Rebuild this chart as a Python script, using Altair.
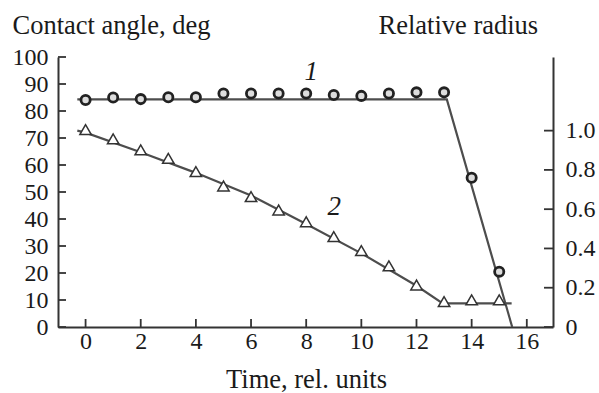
import altair as alt
import pandas as pd

# ---- data ----
# series 1: contact angle (deg), circles
angle_t = [0, 1, 2, 3, 4, 5, 6, 7, 8, 9, 10, 11, 12, 13, 14, 15]
angle_v = [84.1, 85.0, 84.4, 85.1, 85.1, 86.5, 86.5, 86.5, 86.5, 85.9, 85.6, 86.5, 86.9, 86.9, 55.3, 20.5]
angle_fit_t = [-0.3, 13.1, 15.47]
angle_fit_v = [84.3, 84.3, 0.0]

# series 2: relative radius, triangles
radius_t = [0, 1, 2, 3, 4, 5, 6, 7, 8, 9, 10, 11, 12, 13, 14, 15]
radius_v = [1.005, 0.958, 0.902, 0.859, 0.791, 0.718, 0.664, 0.596, 0.536, 0.46, 0.389, 0.311, 0.214, 0.129, 0.138, 0.138]
radius_fit_t = [-0.3, 0, 2, 4, 6, 8, 10, 12, 12.95, 15.45]
radius_fit_v = [1.0, 0.99, 0.89, 0.785, 0.67, 0.525, 0.375, 0.21, 0.12, 0.12]

# axes
x_ticks = [0, 2, 4, 6, 8, 10, 12, 14, 16]
deg_ticks = [0, 10, 20, 30, 40, 50, 60, 70, 80, 90, 100]
rad_ticks = [0, 0.2, 0.4, 0.6, 0.8, 1.0]
x_domain = [-1, 16.95]
deg_domain = [0, 100]
rad_domain = [0, 1.375]

# curve labels
curve_labels = ["1", "2"]
curve_label_t = [8.18, 9.02]
curve_label_v = [94.6, 44.6]

FONT = "Liberation Serif"
INK = "#1a1a1a"
LINE = "#4d4d4d"

W, H = 495, 270

df_angle = pd.DataFrame({"t": angle_t, "v": angle_v})
df_angle_fit = pd.DataFrame({"t": angle_fit_t, "v": angle_fit_v})
df_rad = pd.DataFrame({"t": radius_t, "v": radius_v})
df_rad_fit = pd.DataFrame({"t": radius_fit_t, "v": radius_fit_v})
df_xt = pd.DataFrame({"t": x_ticks})
df_dt = pd.DataFrame({"v": deg_ticks})
df_rt = pd.DataFrame({"v": rad_ticks})
df_lab = pd.DataFrame({"t": curve_label_t, "v": curve_label_v, "s": curve_labels})

x_axis = alt.Axis(
    values=x_ticks, format="d", title="Time, rel. units", grid=False,
    ticks=False, tickSize=0, labelPadding=21, labelBaseline="alphabetic",
    labelFontSize=24, titleFontSize=26.5, titleFontWeight="normal",
    titleBaseline="alphabetic", titleY=60, titleX=248, titleAnchor="middle",
    labelFlush=False,
)
X = alt.X("t:Q", scale=alt.Scale(domain=x_domain, nice=False, zero=False), axis=x_axis)

deg_scale = alt.Scale(domain=deg_domain, nice=False, zero=False)
rad_scale = alt.Scale(domain=rad_domain, nice=False, zero=False)

left_axis = alt.Axis(
    orient="left", values=deg_ticks, format="d", title="Contact angle, deg",
    grid=False, ticks=False, tickSize=0, labelPadding=10, labelFontSize=24,
    titleAngle=0, titleAlign="left", titleBaseline="alphabetic",
    titleX=-46, titleY=-24, titleFontSize=26.5, titleFontWeight="normal",
)
right_axis = alt.Axis(
    orient="right", values=rad_ticks, title="Relative radius",
    labelExpr="datum.value == 0 ? '0' : format(datum.value, '.1f')",
    grid=False, ticks=False, tickSize=0, labelPadding=12, labelFontSize=24,
    titleAngle=0, titleAlign="left", titleBaseline="alphabetic",
    titleX=-175, titleY=-24, titleFontSize=26.5, titleFontWeight="normal",
)

line1 = alt.Chart(df_angle_fit).mark_line(color=LINE, strokeWidth=2.2).encode(
    x=X, y=alt.Y("v:Q", scale=deg_scale, axis=left_axis)
)
circles = alt.Chart(df_angle).mark_point(
    shape="circle", size=85, filled=False, fill="#dddddd", fillOpacity=1,
    stroke="#222222", strokeWidth=2.8, opacity=1
).encode(x=X, y=alt.Y("v:Q", scale=deg_scale, axis=None))

line2 = alt.Chart(df_rad_fit).mark_line(color=LINE, strokeWidth=2.2).encode(
    x=X, y=alt.Y("v:Q", scale=rad_scale, axis=right_axis)
)
triangles = alt.Chart(df_rad).mark_point(
    shape="triangle-up", size=130, filled=False, fill="white", fillOpacity=1,
    stroke="#333333", strokeWidth=1.5, opacity=1
).encode(x=X, y=alt.Y("v:Q", scale=rad_scale, axis=None))

left_ticks = alt.Chart(df_dt).mark_rule(color="#333333", strokeWidth=1.8).encode(
    y=alt.Y("v:Q", scale=deg_scale, axis=None), x=alt.value(0), x2=alt.value(8)
)
right_ticks = alt.Chart(df_rt).mark_rule(color="#333333", strokeWidth=1.8).encode(
    y=alt.Y("v:Q", scale=rad_scale, axis=None), x=alt.value(W - 9), x2=alt.value(W)
)
bottom_ticks = alt.Chart(df_xt).mark_rule(color="#333333", strokeWidth=1.8).encode(
    x=X, y=alt.value(H), y2=alt.value(H - 8)
)
labels = alt.Chart(df_lab).mark_text(
    font=FONT, fontSize=27, fontStyle="italic", color=INK, baseline="middle", align="center"
).encode(x=X, y=alt.Y("v:Q", scale=deg_scale, axis=None), text="s:N")

chart = alt.layer(
    line1, line2, circles, triangles, left_ticks, right_ticks, bottom_ticks, labels
).resolve_scale(y="independent").properties(
    width=W, height=H,
    autosize=alt.AutoSizeParams(type="none"),
    padding={"left": 58, "top": 57, "right": 46, "bottom": 66},
    background="white",
).configure_view(stroke=None).configure_axis(
    labelFont=FONT, titleFont=FONT, labelColor=INK, titleColor=INK,
    domainColor="#333333", domainWidth=2,
)

chart.save("out.html", embed_options={"renderer": "svg", "actions": False})
